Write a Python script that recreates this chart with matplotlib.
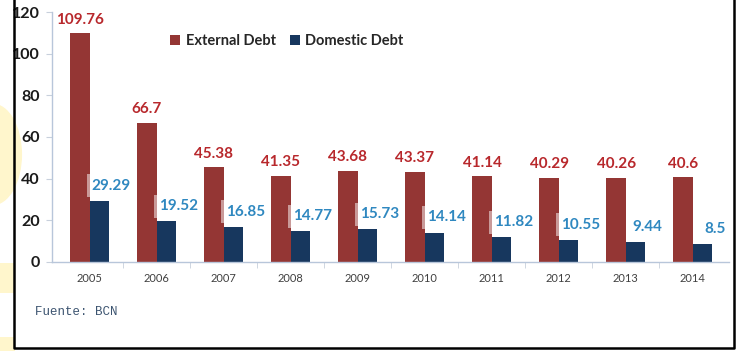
import numpy as np
import matplotlib.pyplot as plt
from matplotlib.patches import Ellipse, Rectangle
from matplotlib.lines import Line2D

# Debt levels by year
years = ['2005', '2006', '2007', '2008', '2009', '2010', '2011', '2012', '2013', '2014']
external_debt = [109.76, 66.7, 45.38, 41.35, 43.68, 43.37, 41.14, 40.29, 40.26, 40.6]
domestic_debt = [29.29, 19.52, 16.85, 14.77, 15.73, 14.14, 11.82, 10.55, 9.44, 8.5]

red = '#943634'
navy = '#17375e'
red_text = '#b8282c'
blue_text = '#2f88c0'

plt.rcParams['font.family'] = ['Lato', 'DejaVu Sans']

fig = plt.figure(figsize=(7.36, 3.51), dpi=100)

# slide background bits showing outside the frame on the left
yellow = '#fff6cc'
fig.patches.append(Ellipse((-0.01, 0.56), 0.08, 0.29, transform=fig.transFigure,
                           facecolor=yellow, edgecolor='none', zorder=0))
fig.patches.append(Rectangle((0, 0.165), 0.02, 0.085, transform=fig.transFigure,
                             facecolor=yellow, edgecolor='none', zorder=0))
fig.patches.append(Rectangle((0, 0.0), 0.02, 0.04, transform=fig.transFigure,
                             facecolor=yellow, edgecolor='none', zorder=0))

# black frame (left, bottom, right)
fig.add_artist(Line2D([0.0197, 0.0197, 0.9975, 0.9975], [1.0, 0.009, 0.009, 1.0],
                      transform=fig.transFigure, color='black', lw=1.8))

ax = fig.add_axes([0.0707, 0.2536, 0.9198, 0.7122])

x = np.arange(len(years))
w = 0.29
ax.bar(x - w / 2, external_debt, w, color=red, label='External Debt', zorder=2)
ax.bar(x + w / 2, domestic_debt, w, color=navy, label='Domestic Debt', zorder=2)

for xi, v in zip(x, external_debt):
    ax.annotate(f'{v:g}', (xi - w / 2, v), xytext=(0, 7), textcoords='offset points',
                ha='center', va='baseline', fontsize=11, fontweight='bold',
                color=red_text, annotation_clip=False)

for xi, v in zip(x, domestic_debt):
    ax.annotate(f'{v:g}', (xi + w / 2 + 0.18, v), xytext=(0, 8), textcoords='offset points',
                ha='center', va='baseline', fontsize=11, fontweight='bold',
                color=blue_text, zorder=3,
                bbox=dict(boxstyle='square,pad=0.3', facecolor='white',
                          edgecolor='none', alpha=0.5))

ax.set_xlim(-0.56, 9.54)
ax.set_ylim(0, 120)
ax.set_yticks(range(0, 121, 20))
ax.set_xticks(x)
ax.set_xticklabels(years, fontsize=8, color='#404040')
ax.set_xticks(x[:-1] + 0.5, minor=True)
ax.tick_params(axis='x', which='major', length=0, pad=8)
ax.tick_params(axis='x', which='minor', length=4, color='#c8d0dc')
ax.tick_params(axis='y', length=4, color='#c8d0dc', labelsize=11.5, pad=5)
for lab in ax.get_yticklabels():
    lab.set_fontweight('bold')
    lab.set_color('#1a1a1a')

for side in ['top', 'right']:
    ax.spines[side].set_visible(False)
for side in ['left', 'bottom']:
    ax.spines[side].set_color('#b8c6da')
    ax.spines[side].set_linewidth(1)

ax.legend(loc='upper center', bbox_to_anchor=(0.347, 0.965), ncol=2, frameon=False,
          handlelength=0.7, handleheight=0.7, handletextpad=0.35, columnspacing=1.0,
          prop={'size': 10.5, 'weight': 'bold'}, labelcolor='#262626')

fig.text(0.048, 0.11, 'Fuente: BCN', family='Liberation Mono', fontsize=9,
         color='#3c5470', va='center')

fig.savefig('out.png', dpi=100)
